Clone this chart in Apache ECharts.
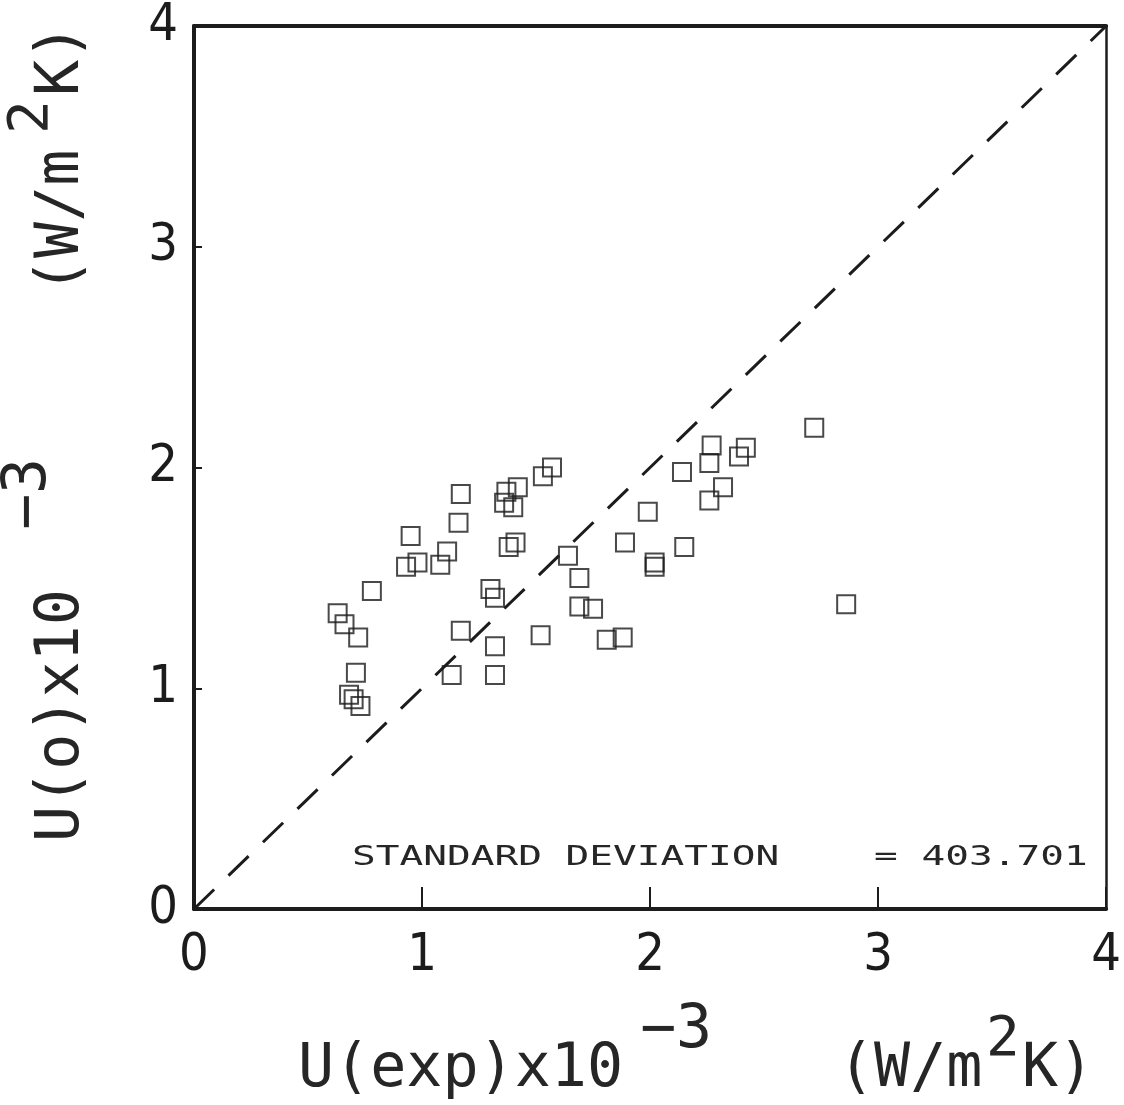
<!DOCTYPE html>
<html>
<head>
<meta charset="utf-8">
<script src="https://cdn.jsdelivr.net/npm/echarts@6/dist/echarts.min.js"></script>
<style>
  html, body { margin: 0; padding: 0; background: #fff; }
  #main { width: 1124px; height: 1105px; }
</style>
</head>
<body>
<div id="main"></div>
<script>
// measured U(exp) vs calculated U(o), both x10^-3 W/m2K
var uExp = [0.63, 0.66, 0.72, 0.78, 0.71, 0.68, 0.70, 0.73, 0.95, 0.93,
            0.98, 1.08, 1.11, 1.16, 1.17, 1.17, 1.13, 1.30, 1.32, 1.32,
            1.32, 1.37, 1.36, 1.40, 1.42, 1.38, 1.41, 1.53, 1.57, 1.52,
            1.64, 1.69, 1.69, 1.75, 1.81, 1.88, 1.89, 1.99, 2.02, 2.02,
            2.14, 2.15, 2.27, 2.26, 2.26, 2.32, 2.39, 2.42, 2.72, 2.86];
var uCalc = [1.34, 1.29, 1.23, 1.44, 1.07, 0.97, 0.95, 0.92, 1.69, 1.55,
             1.57, 1.56, 1.62, 1.75, 1.88, 1.26, 1.06, 1.45, 1.41, 1.19,
             1.06, 1.89, 1.84, 1.82, 1.91, 1.64, 1.66, 1.96, 2.00, 1.24,
             1.60, 1.50, 1.37, 1.36, 1.22, 1.23, 1.66, 1.80, 1.57, 1.55,
             1.98, 1.64, 2.10, 2.02, 1.85, 1.91, 2.05, 2.09, 2.18, 1.38];
var diagonal = [[0, 0], [4, 4]];
var ticks = [0, 1, 2, 3, 4];
var statText = 'STANDARD DEVIATION    = 403.701';

var points = uExp.map(function (x, i) { return [x, uCalc[i]]; });

var ink = '#1c1c1c';
var mono = 'DejaVu Sans Mono';
var narrow = '"Liberation Sans Narrow", "DejaVu Sans Condensed", sans-serif';

function label(text, x, y, size) {
    return {
        type: 'text', x: x, y: y,
        style: { text: text, font: size + 'px ' + mono, fill: '#262626', align: 'left', verticalAlign: 'middle' }
    };
}

var myChart = echarts.init(document.getElementById('main'), null, { renderer: 'canvas' });
var option = {
    backgroundColor: '#fff',
    animation: false,
    grid: { left: 194, right: 17, top: 26, bottom: 196 },
    xAxis: [
        {
            type: 'value', min: ticks[0], max: ticks[ticks.length - 1], interval: 1,
            splitLine: { show: false },
            axisLine: { onZero: false, lineStyle: { color: ink, width: 4 } },
            axisTick: { inside: true, length: 22, lineStyle: { color: ink, width: 2 } },
            axisLabel: { margin: 21, fontSize: 52, fontFamily: narrow, color: ink }
        },
        {
            type: 'value', position: 'top', min: 0, max: 4,
            splitLine: { show: false }, axisTick: { show: false }, axisLabel: { show: false },
            axisLine: { onZero: false, lineStyle: { color: ink, width: 4 } }
        }
    ],
    yAxis: [
        {
            type: 'value', min: ticks[0], max: ticks[ticks.length - 1], interval: 1,
            splitLine: { show: false },
            axisLine: { onZero: false, lineStyle: { color: ink, width: 4 } },
            axisTick: { inside: true, length: 8, lineStyle: { color: ink, width: 2 } },
            axisLabel: { margin: 16, fontSize: 52, fontFamily: narrow, color: ink }
        },
        {
            type: 'value', position: 'right', min: 0, max: 4,
            splitLine: { show: false }, axisTick: { show: false }, axisLabel: { show: false },
            axisLine: { onZero: false, lineStyle: { color: ink, width: 2.5 } }
        }
    ],
    series: [
        {
            type: 'line', data: diagonal, symbol: 'none', silent: true,
            lineStyle: { color: ink, width: 3, type: [28, 20] }
        },
        {
            type: 'scatter', data: points, symbol: 'rect', symbolSize: 18,
            itemStyle: { color: 'rgba(0,0,0,0)', borderColor: ink, borderWidth: 2 }
        }
    ],
    graphic: { elements: [
        // x axis title
        label('U(exp)x10', 298, 1070, 60),
        label('\u22123', 640, 1031, 60),
        label('(W/m', 838, 1070, 60),
        label('2', 986, 1040, 56),
        label('K)', 1022, 1070, 60),
        // y axis title, rotated
        {
            type: 'group', x: 84, y: 842, rotation: Math.PI / 2,
            children: [
                label('U(o)x10', 0, -22, 60),
                label('\u22123', 312, -55, 60),
                label('(W/m', 548, -22, 60),
                label('2', 708, -52, 56),
                label('K)', 746, -22, 60)
            ]
        },
        // statistics note
        {
            type: 'text', x: 352, y: 858, scaleX: 1.46,
            style: { text: statText, font: '27px ' + mono, fill: '#262626', align: 'left', verticalAlign: 'middle' }
        }
    ] }
};
myChart.setOption(option);
</script>
</body>
</html>
